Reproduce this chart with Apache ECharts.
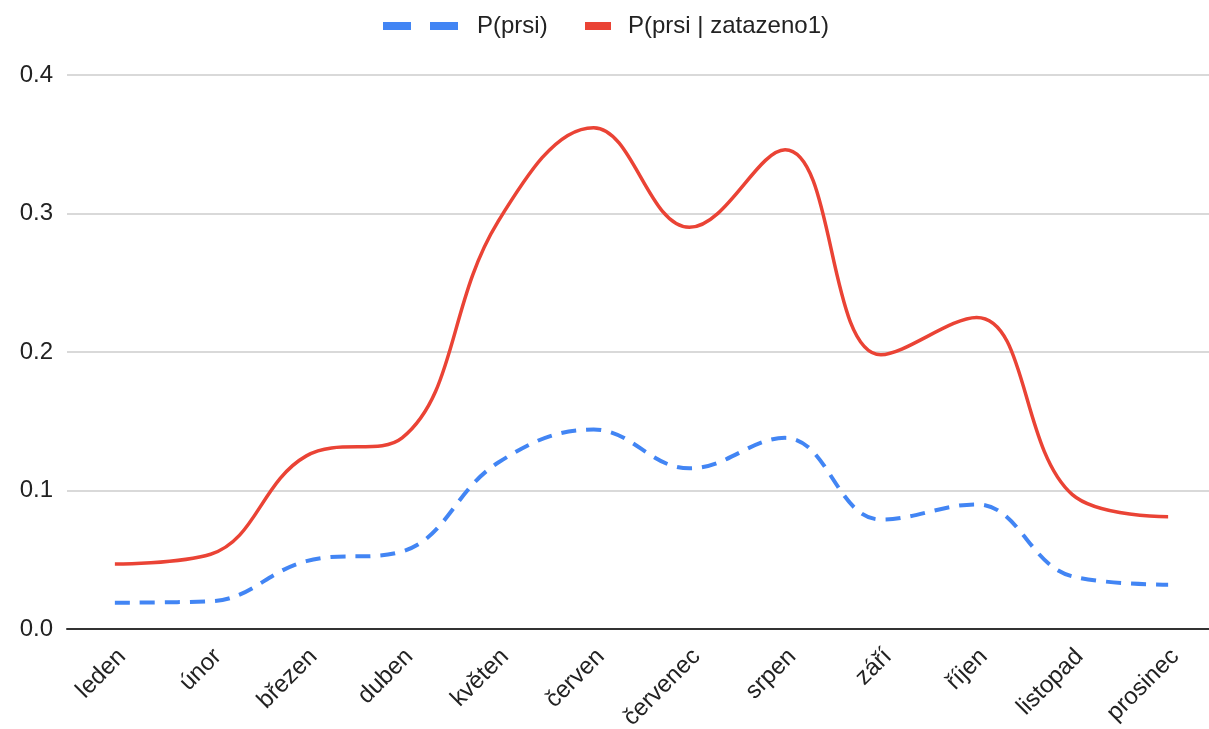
<!DOCTYPE html>
<html>
<head>
<meta charset="utf-8">
<script src="https://cdn.jsdelivr.net/npm/echarts@6/dist/echarts.min.js"></script>
<style>
  html, body { margin: 0; padding: 0; background: #fff; }
  #chart { width: 1209px; height: 729px; }
</style>
</head>
<body>
<div id="chart"></div>
<script>
const months = ['leden', 'únor', 'březen', 'duben', 'květen', 'červen', 'červenec', 'srpen', 'září', 'říjen', 'listopad', 'prosinec']
const pRain = [0.019, 0.02, 0.049, 0.056, 0.12, 0.144, 0.116, 0.138, 0.079, 0.09, 0.038, 0.032]
const pRainCloudy = [0.047, 0.054, 0.125, 0.138, 0.294, 0.362, 0.29, 0.346, 0.198, 0.225, 0.097, 0.081]
const yTicks = [0, 0.1, 0.2, 0.3, 0.4]

const font = 'Arial, "Liberation Sans", sans-serif'
const chart = echarts.init(document.getElementById('chart'))
chart.setOption({
  animation: false,
  textStyle: { fontFamily: font },
  legend: [{
    left: 378,
    top: 9,
    data: [{ name: 'P(prsi)', icon: 'path://M0,0H28V8H0Z M47,0H75V8H47Z' }],
    itemWidth: 75,
    itemHeight: 8,
    textStyle: { fontSize: 24, color: '#222', padding: [0, 0, 0, 14] }
  }, {
    left: 580,
    top: 9,
    data: [{ name: 'P(prsi | zatazeno1)', icon: 'rect' }],
    itemWidth: 26,
    itemHeight: 8,
    textStyle: { fontSize: 24, color: '#222', padding: [0, 0, 0, 12] }
  }],
  grid: { left: 67, top: 75, width: 1149, height: 554, outerBoundsMode: 'none', containLabel: false },
  xAxis: {
    type: 'category',
    data: months,
    boundaryGap: true,
    axisTick: { show: false },
    axisLine: { lineStyle: { color: '#333', width: 2 } },
    axisLabel: { rotate: 45, interval: 0, fontSize: 24, color: '#222', margin: 31, padding: [0, -10, 0, 0] }
  },
  yAxis: {
    type: 'value',
    min: yTicks[0],
    max: yTicks[yTicks.length - 1],
    interval: 0.1,
    axisLine: { show: false },
    axisTick: { show: false },
    splitLine: { lineStyle: { color: '#ccc', width: 1.5 } },
    axisLabel: { fontSize: 24, color: '#222', margin: 14, formatter: v => v.toFixed(1) }
  },
  series: [{
    name: 'P(prsi)',
    type: 'line',
    data: pRain,
    smooth: 0.4,
    symbol: 'none',
    color: '#4285f4',
    lineStyle: { width: 4, type: [15, 10] }
  }, {
    name: 'P(prsi | zatazeno1)',
    type: 'line',
    data: pRainCloudy,
    smooth: 0.4,
    symbol: 'none',
    color: '#ea4335',
    lineStyle: { width: 3.5 }
  }]
})
</script>
</body>
</html>
